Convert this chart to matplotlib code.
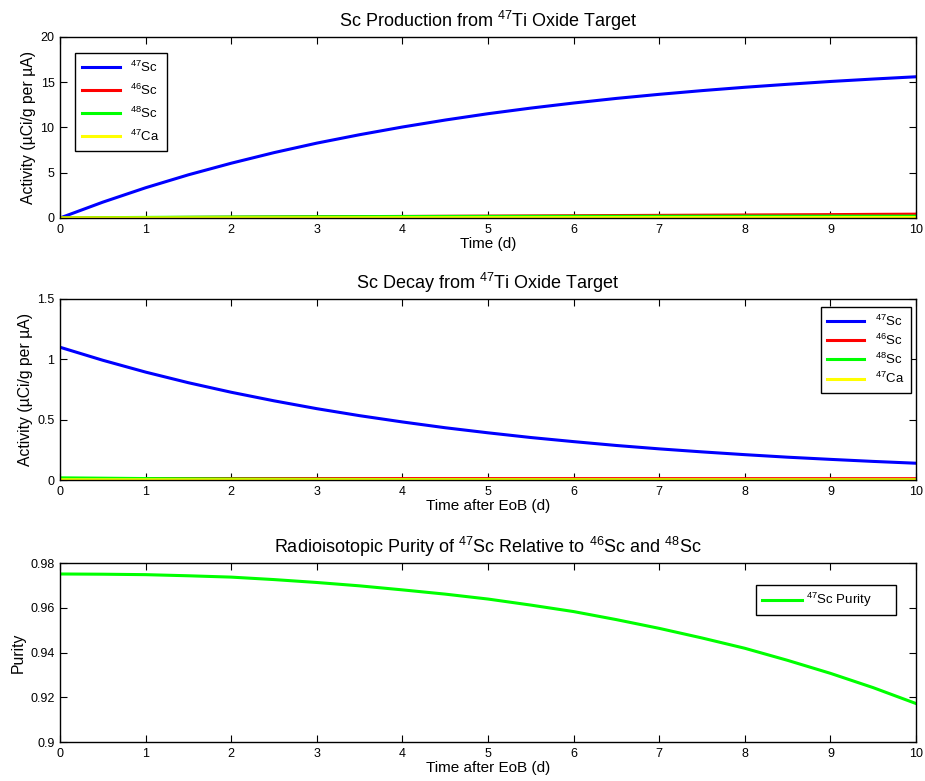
import matplotlib
matplotlib.use('Agg')
import matplotlib.pyplot as plt
from matplotlib.ticker import FormatStrFormatter

plt.rcParams['font.family'] = ['Liberation Sans', 'DejaVu Sans']
plt.rcParams['mathtext.default'] = 'regular'

# time grid (days)
t = [0, 0.5, 1, 1.5, 2, 2.5, 3, 3.5, 4, 4.5, 5, 5.5, 6, 6.5, 7, 7.5, 8, 8.5, 9, 9.5, 10]

# production during irradiation (uCi/g per uA)
sc47_prod = [0, 1.75, 3.34, 4.77, 6.05, 7.22, 8.27, 9.20, 10.05, 10.82, 11.52,
             12.14, 12.70, 13.21, 13.66, 14.07, 14.44, 14.77, 15.08, 15.35, 15.60]
sc46_prod = [0, 0.02, 0.04, 0.06, 0.08, 0.10, 0.13, 0.15, 0.17, 0.19, 0.21,
             0.23, 0.25, 0.27, 0.29, 0.31, 0.33, 0.35, 0.37, 0.40, 0.42]
sc48_prod = [0, 0.035, 0.063, 0.087, 0.107, 0.124, 0.137, 0.149, 0.158, 0.166, 0.172,
             0.177, 0.182, 0.185, 0.188, 0.190, 0.192, 0.194, 0.195, 0.196, 0.197]
ca47_prod = [0, 0.004, 0.008, 0.011, 0.014, 0.017, 0.020, 0.023, 0.025, 0.028, 0.030,
             0.032, 0.034, 0.036, 0.038, 0.039, 0.041, 0.042, 0.043, 0.045, 0.046]

# decay after end of bombardment
sc47_decay = [1.10, 0.992, 0.894, 0.806, 0.727, 0.656, 0.591, 0.533, 0.481, 0.433, 0.391,
              0.352, 0.318, 0.286, 0.258, 0.233, 0.210, 0.189, 0.171, 0.154, 0.139]
sc46_decay = [0.0120, 0.0119, 0.0119, 0.0118, 0.0118, 0.0117, 0.0117, 0.0116, 0.0116, 0.0115, 0.0115,
              0.0114, 0.0114, 0.0113, 0.0113, 0.0112, 0.0112, 0.0111, 0.0111, 0.0110, 0.0110]
sc48_decay = [0.018, 0.015, 0.012, 0.010, 0.008, 0.0068, 0.0057, 0.0047, 0.0039, 0.0032, 0.0027,
              0.0022, 0.0018, 0.0015, 0.0012, 0.0010, 0.0008, 0.0007, 0.0006, 0.0005, 0.0004]
ca47_decay = [0.0020, 0.0020, 0.0019, 0.0019, 0.0018, 0.0018, 0.0017, 0.0017, 0.0016, 0.0016, 0.0015,
              0.0015, 0.0014, 0.0014, 0.0013, 0.0013, 0.0012, 0.0012, 0.0011, 0.0011, 0.0010]

# 47Sc purity
purity = [0.9751, 0.9750, 0.9748, 0.9743, 0.9737, 0.9726, 0.9713, 0.9698, 0.9680, 0.9661, 0.9639,
          0.9612, 0.9583, 0.9547, 0.9508, 0.9465, 0.9419, 0.9365, 0.9307, 0.9243, 0.9172]

labels = [r'$^{47}$Sc', r'$^{46}$Sc', r'$^{48}$Sc', r'$^{47}$Ca']
colors = ['#0000ff', '#ff0000', '#00ff00', '#ffff00']

fig = plt.figure(figsize=(9.25, 7.81), dpi=100)
ax1 = fig.add_axes([0.0649, 0.7209, 0.9254, 0.2318])
ax2 = fig.add_axes([0.0649, 0.3854, 0.9254, 0.2318])
ax3 = fig.add_axes([0.0649, 0.0499, 0.9254, 0.2292])


def style(ax):
    ax.set_xlim(0, 10)
    ax.set_xticks(range(11))
    ax.tick_params(direction='in', top=True, right=True, length=5, labelsize=9, pad=4)
    for s in ax.spines.values():
        s.set_linewidth(1.0)


for ys, c, lab in zip([sc47_prod, sc46_prod, sc48_prod, ca47_prod], colors, labels):
    ax1.plot(t, ys, color=c, lw=2.2, label=lab)
style(ax1)
ax1.set_ylim(0, 20)
ax1.set_yticks([0, 5, 10, 15, 20])
ax1.set_title(r'Sc Production from $^{47}$Ti Oxide Target', fontsize=13, pad=7)
ax1.set_xlabel('Time (d)', fontsize=11, labelpad=1)
ax1.set_ylabel('Activity (µCi/g per µA)', fontsize=11.3, labelpad=3)
ax1.legend(loc='upper left', bbox_to_anchor=(0.0175, 0.912), borderaxespad=0, fontsize=9.5,
           fancybox=False, edgecolor='black', framealpha=1, handlelength=2.9,
           borderpad=0.5, labelspacing=0.6)

for ys, c, lab in zip([sc47_decay, sc46_decay, sc48_decay, ca47_decay], colors, labels):
    ax2.plot(t, ys, color=c, lw=2.2, label=lab)
style(ax2)
ax2.set_ylim(0, 1.5)
ax2.set_yticks([0, 0.5, 1, 1.5])
ax2.yaxis.set_major_formatter(FormatStrFormatter('%g'))
ax2.set_title(r'Sc Decay from $^{47}$Ti Oxide Target', fontsize=13, pad=7)
ax2.set_xlabel('Time after EoB (d)', fontsize=11, labelpad=1)
ax2.set_ylabel('Activity (µCi/g per µA)', fontsize=11.3, labelpad=3)
ax2.legend(loc='upper right', bbox_to_anchor=(0.994, 0.956), borderaxespad=0, fontsize=9.5,
           fancybox=False, edgecolor='black', framealpha=1, handlelength=2.8,
           borderpad=0.5, labelspacing=0.3)

ax3.plot(t, purity, color='#00ff00', lw=2.2, label=r'$^{47}$Sc Purity      ')
style(ax3)
ax3.set_ylim(0.9, 0.98)
ax3.set_yticks([0.9, 0.92, 0.94, 0.96, 0.98])
ax3.yaxis.set_major_formatter(FormatStrFormatter('%g'))
ax3.set_title(r'Radioisotopic Purity of $^{47}$Sc Relative to $^{46}$Sc and $^{48}$Sc', fontsize=13, pad=7)
ax3.set_xlabel('Time after EoB (d)', fontsize=11, labelpad=1)
ax3.set_ylabel('Purity', fontsize=11.3, labelpad=3)
ax3.legend(loc='upper right', bbox_to_anchor=(0.9766, 0.877), borderaxespad=0, fontsize=9.5,
           fancybox=False, edgecolor='black', framealpha=1, handlelength=3.0,
           borderpad=0.45, handletextpad=0.3)

fig.savefig('out.png', dpi=100)
